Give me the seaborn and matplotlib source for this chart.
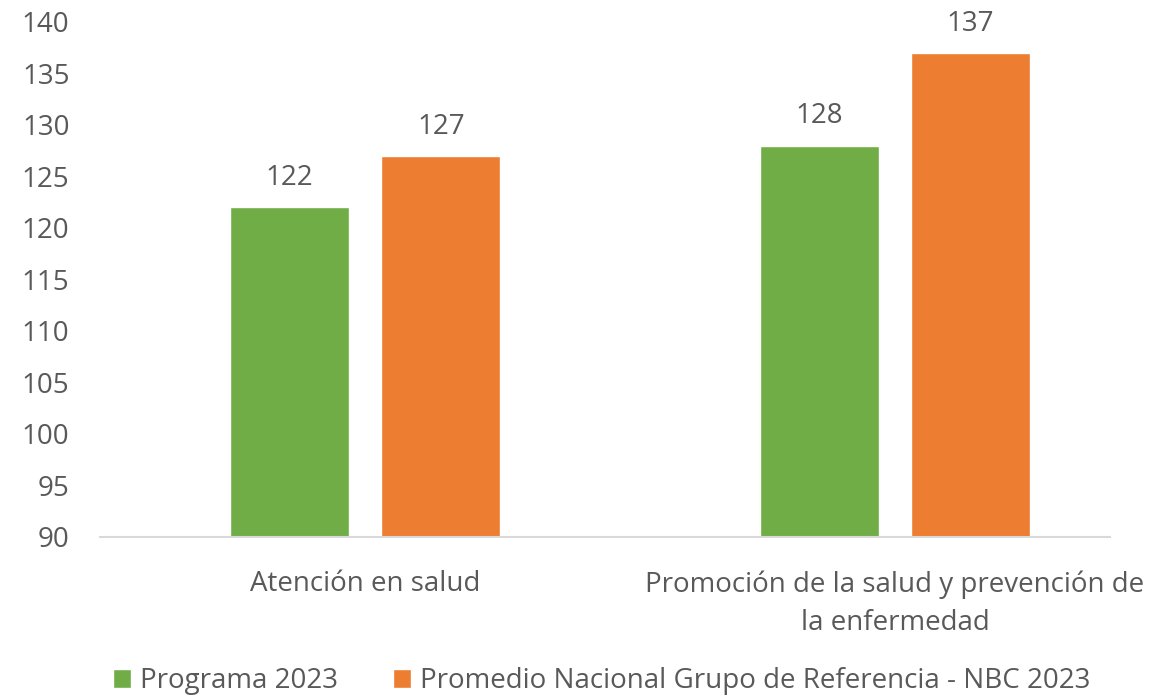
import matplotlib
matplotlib.use("Agg")
import matplotlib.pyplot as plt
import seaborn as sns
import pandas as pd

# data
categories = ["Atención en salud", "Promoción de la salud y prevención de\nla enfermedad"]
series     = ["Programa 2023", "Promedio Nacional Grupo de Referencia - NBC 2023"]
programa   = [122, 128]
promedio   = [127, 137]
y_ticks    = list(range(90, 141, 5))

COLORS = ["#70AD47", "#ED7D31"]
TXT    = "#595959"

df = pd.DataFrame({
    "categoria": categories * 2,
    "serie": [series[0]] * 2 + [series[1]] * 2,
    "valor": programa + promedio,
})

sns.set_style("white")
plt.rcParams["font.family"] = ["Open Sans", "DejaVu Sans"]

fig = plt.figure(figsize=(11.73, 6.98), dpi=100)
ax = fig.add_axes([0.0853, 0.2307, 0.861, 0.7378])

sns.barplot(data=df, x="categoria", y="valor", hue="serie", palette=COLORS,
            width=0.572, gap=0.215, ax=ax, saturation=1, legend=True)

ax.set_ylim(90, 140)
ax.set_xlim(-0.5, 1.406)
ax.set_yticks(y_ticks)
ax.set_xlabel("")
ax.set_ylabel("")
ax.tick_params(axis="y", labelsize=20, colors=TXT, length=0, pad=22)
ax.tick_params(axis="x", labelsize=20, colors=TXT, length=0, pad=24)
for s in ["top", "right", "left"]:
    ax.spines[s].set_visible(False)
ax.spines["bottom"].set_color("#D9D9D9")
ax.spines["bottom"].set_linewidth(1.5)
for lab in ax.get_xticklabels():
    lab.set_linespacing(1.5)

for cont in ax.containers:
    ax.bar_label(cont, fmt="%d", padding=11, fontsize=20, color=TXT)

handles, labels = ax.get_legend_handles_labels()
ax.get_legend().remove()
fig.legend(handles, labels, loc="lower center", bbox_to_anchor=(0.513, -0.032),
           ncol=2, frameon=False, fontsize=20, labelcolor=TXT,
           handlelength=0.65, handleheight=0.65, handletextpad=0.3,
           columnspacing=2.0)

fig.savefig("out.png", dpi=100, facecolor="white")
